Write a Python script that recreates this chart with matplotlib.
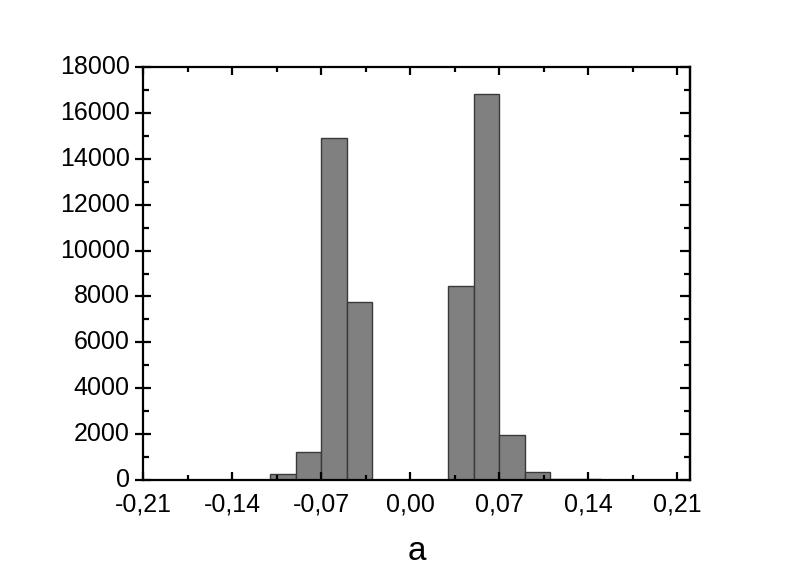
import numpy as np
import matplotlib
matplotlib.use('Agg')
import matplotlib.pyplot as plt
from matplotlib.ticker import MultipleLocator, FuncFormatter

# histogram bins (left edge) and counts
bin_left = [-0.11, -0.09, -0.07, -0.05, 0.03, 0.05, 0.07, 0.09, 0.11, 0.13]
counts = [250, 1210, 14900, 7760, 8450, 16820, 1960, 340, 50, 25]
bin_width = 0.02

x_ticks = [-0.21, -0.14, -0.07, 0.00, 0.07, 0.14, 0.21]
y_ticks = [0, 2000, 4000, 6000, 8000, 10000, 12000, 14000, 16000, 18000]

plt.rcParams['font.family'] = ['Liberation Sans', 'DejaVu Sans']

fig = plt.figure(figsize=(8.01, 5.76), dpi=100)
ax = fig.add_axes([143 / 801, 96 / 576, (690 - 143) / 801, (480 - 67) / 576])

ax.bar(bin_left, counts, width=bin_width, align='edge',
       color='#808080', edgecolor='#3a3a3a', linewidth=1.0)

ax.set_xlim(-0.21, 0.22)
ax.set_ylim(0, 18000)

ax.set_xticks(x_ticks)
ax.xaxis.set_major_formatter(FuncFormatter(lambda v, p: ('%.2f' % v).replace('.', ',').replace('-0,00', '0,00')))
ax.xaxis.set_minor_locator(MultipleLocator(0.035))
ax.set_yticks(y_ticks)
ax.yaxis.set_minor_locator(MultipleLocator(1000))

for s in ax.spines.values():
    s.set_linewidth(1.6)

ax.tick_params(axis='x', which='both', direction='in', top=True, labelsize=18,
               width=1.6, pad=9)
ax.tick_params(axis='x', which='major', length=6)
ax.tick_params(axis='x', which='minor', length=3.5)
ax.tick_params(axis='y', which='major', direction='inout', length=11, width=1.6,
               labelsize=18, right=False, pad=4)
ax.tick_params(axis='y', which='minor', direction='in', length=4, width=1.6, right=False)
for lbl in ax.get_yticklabels():
    lbl.set_verticalalignment('center')

# right axis with inward ticks only
sec = ax.secondary_yaxis('right')
sec.set_yticks(y_ticks)
sec.yaxis.set_minor_locator(MultipleLocator(1000))
sec.tick_params(which='both', direction='in', labelright=False, width=1.6)
sec.tick_params(which='major', length=7)
sec.tick_params(which='minor', length=4)
sec.spines['right'].set_linewidth(1.6)

ax.set_xlabel('a', fontsize=24, labelpad=14)

fig.savefig('out.png', dpi=100)
